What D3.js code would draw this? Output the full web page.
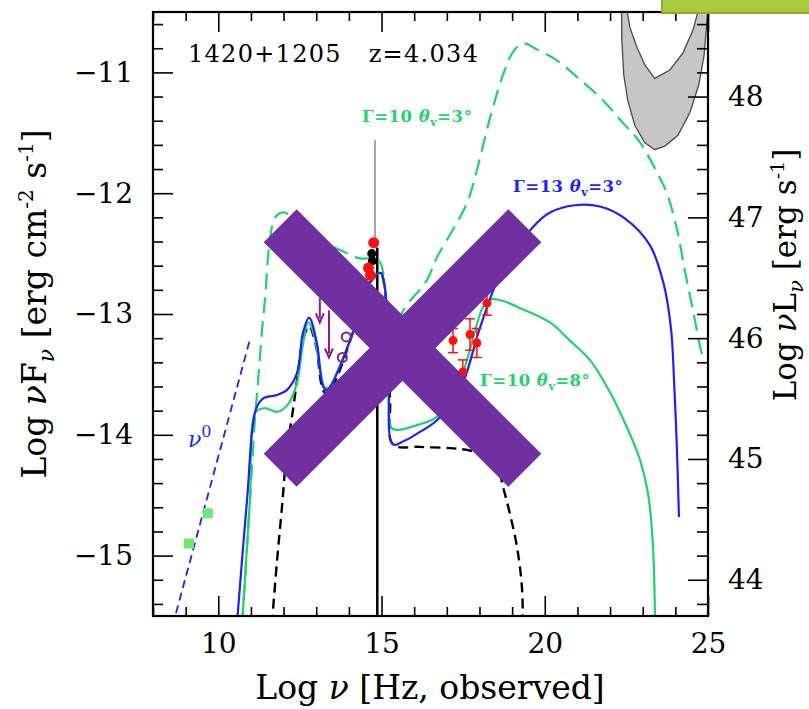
<!DOCTYPE html>
<html>
<head>
<meta charset="utf-8">
<script src="https://cdn.jsdelivr.net/npm/d3@7"></script>
<style>
  body { margin: 0; background: #ffffff; }
  svg { display: block; }
  text { font-family: "DejaVu Serif", serif; }
</style>
</head>
<body>
<svg id="chart" width="809" height="709"></svg>
<script>
// ---- axes -------------------------------------------------------------
const xDomain = [8, 25];              // log nu [Hz]
const yDomain = [-15.5, -10.5];       // log nuF_nu
const lumOffset = 59.2;               // log(4 pi d_L^2) for z = 4.034
const xMajorTicks = [10, 15, 20, 25];
const yMajorTicks = [-15, -14, -13, -12, -11];
const lumMajorTicks = [44, 45, 46, 47, 48];

// ---- jet models (log nu, log nuF_nu) ----------------------------------
// Gamma = 13, theta_v = 3 deg
const blueNu = [10.57, 10.88, 11.15, 11.37, 11.80, 12.10, 12.41, 12.59, 12.78, 13.02, 13.21, 13.33, 13.64, 14.03, 14.34, 14.60, 14.80, 14.98, 15.11, 15.22, 15.35, 15.70, 16.09, 16.70, 17.40, 18.02, 18.63, 19.64, 20.16, 20.92, 21.69, 22.46, 23.22, 23.65, 23.87, 23.96, 24.05, 24.11];
const blueF  = [-15.57, -14.54, -13.79, -13.70, -13.67, -13.63, -13.49, -13.16, -13.03, -13.24, -13.60, -13.63, -13.49, -13.22, -12.97, -12.76, -12.68, -12.66, -12.80, -13.50, -14.08, -14.05, -13.99, -13.88, -13.63, -13.11, -12.68, -12.28, -12.16, -12.10, -12.11, -12.21, -12.43, -12.76, -13.13, -13.55, -14.13, -14.68];

// Gamma = 10, theta_v = 8 deg
const green8Nu = [10.73, 10.97, 11.15, 11.43, 11.80, 12.13, 12.41, 12.59, 12.75, 12.93, 13.11, 13.27, 13.42, 13.73, 14.03, 14.34, 14.60, 14.80, 14.98, 15.11, 15.22, 15.30, 15.47, 16.09, 16.70, 17.40, 18.11, 18.32, 18.70, 19.15, 20.16, 20.77, 21.38, 21.90, 22.52, 22.92, 23.16, 23.31, 23.38];
const green8F  = [-15.57, -14.54, -13.81, -13.78, -13.81, -13.75, -13.57, -13.26, -13.07, -13.17, -13.44, -13.61, -13.60, -13.42, -13.22, -12.97, -12.76, -12.68, -12.66, -12.80, -13.50, -13.94, -13.96, -13.92, -13.85, -13.55, -12.94, -12.88, -12.89, -12.94, -13.07, -13.22, -13.38, -13.60, -13.94, -14.21, -14.48, -14.90, -15.57];

// Gamma = 10, theta_v = 3 deg
const green3Nu = [10.73, 10.97, 11.12, 11.22, 11.34, 11.43, 11.58, 11.74, 11.95, 12.20, 12.50, 13.11, 13.73, 14.34, 14.71, 14.95, 15.11, 15.26, 15.34, 15.63, 16.39, 16.70, 17.19, 17.62, 17.92, 18.32, 18.72, 19.03, 19.33, 19.76, 20.37, 21.08, 21.78, 22.40, 22.92, 23.44, 23.74, 24.05, 24.29, 24.54, 24.75, 24.88];
const green3F  = [-15.57, -14.54, -13.88, -13.55, -13.13, -12.88, -12.39, -12.20, -12.16, -12.18, -12.26, -12.39, -12.47, -12.54, -12.54, -12.57, -12.80, -13.22, -13.30, -12.99, -12.72, -12.53, -12.30, -12.08, -11.81, -11.38, -11.02, -10.83, -10.76, -10.81, -10.90, -11.06, -11.23, -11.42, -11.58, -11.83, -12.00, -12.30, -12.64, -12.97, -13.26, -13.40];

// torus + accretion disk + X-ray corona
const diskNu = [11.64, 11.80, 11.95, 12.10, 12.29, 12.44, 12.59, 12.78, 12.99, 13.21, 13.36, 13.67, 14.03, 14.34, 14.60, 14.80, 14.98, 15.11, 15.26, 15.35, 16.18, 17.10, 17.71, 18.17, 18.54, 18.72, 18.93, 19.15, 19.30, 19.33];
const diskF  = [-15.57, -15.04, -14.60, -14.13, -13.79, -13.49, -13.22, -13.10, -13.26, -13.63, -13.67, -13.50, -13.23, -12.98, -12.77, -12.69, -12.67, -12.82, -13.71, -14.08, -14.10, -14.11, -14.13, -14.16, -14.25, -14.43, -14.65, -14.93, -15.26, -15.57];

// radio spectrum extrapolated as F_nu ~ nu^0
const nu0Nu = [8.60, 10.97];
const nu0F  = [-15.58, -13.21];

// gamma-ray (LAT) sensitivity band: outer edge, then inner edge
const latOuterNu = [22.35, 22.36, 22.42, 22.54, 22.76, 23.06, 23.37, 23.68, 24.08, 24.45, 24.72, 24.88, 24.97, 25.00];
const latOuterF  = [-10.44, -10.73, -11.02, -11.23, -11.44, -11.58, -11.64, -11.61, -11.52, -11.33, -11.10, -10.86, -10.57, -10.44];
const latInnerNu = [24.75, 24.54, 24.23, 23.83, 23.37, 23.07, 22.82, 22.61, 22.49];
const latInnerF  = [-10.44, -10.65, -10.84, -10.98, -11.05, -10.94, -10.79, -10.63, -10.44];

// ---- observations -----------------------------------------------------
const radioNu = [9.10, 9.68];
const radioF  = [-14.90, -14.65];

const ulNu    = [13.11, 13.39];       // IR upper limits
const ulTopF  = [-12.87, -12.97];
const ulTipF  = [-13.07, -13.36];

const irNu = [13.80, 13.92];
const irF  = [-13.36, -13.19];

const optNu = [14.76, 14.60, 14.66];
const optF  = [-12.41, -12.62, -12.68];
const optBlackNu = [14.70, 14.72];
const optBlackF  = [-12.50, -12.56];

const specNu = [14.80, 14.87];        // optical spectrum edge
const specTopF = [-11.56, -12.45];
const specBotF = [-12.45, -15.50];

const xrayNu  = [17.19, 17.49, 17.71, 17.92, 18.23];
const xrayF   = [-13.22, -13.48, -13.17, -13.24, -12.91];
const xrayErr = [0.10, 0.10, 0.13, 0.12, 0.10];

// ---- layout -----------------------------------------------------------
const svg = d3.select("#chart");
const L = 153, R = 708, T = 12, B = 616;
const x = d3.scaleLinear().domain(xDomain).range([L, R]);
const y = d3.scaleLinear().domain(yDomain).range([B, T]);
const yLum = d3.scaleLinear().domain(yDomain.map(v => v + lumOffset)).range([B, T]);

const colBlue = "#1f1fff", colGreen = "#1ed46a", colRed = "#ff1010",
      colPurple = "#8c1a8c";

svg.append("rect").attr("width", 809).attr("height", 709).attr("fill", "#ffffff");

svg.append("defs").append("clipPath").attr("id", "plotClip")
  .append("rect").attr("x", L).attr("y", T).attr("width", R - L).attr("height", B - T);

const plot = svg.append("g").attr("clip-path", "url(#plotClip)");
const zip = (a, b) => a.map((v, i) => [v, b[i]]);
const line = d3.line().x(d => x(d[0])).y(d => y(d[1])).curve(d3.curveCatmullRom.alpha(0.5));
const straight = d3.line().x(d => x(d[0])).y(d => y(d[1]));

// gamma-ray band
plot.append("path")
  .attr("d", straight(zip(latOuterNu, latOuterF).concat(zip(latInnerNu, latInnerF))) + "Z")
  .attr("fill", "#c6c6c6").attr("stroke", "#4a4a4a").attr("stroke-width", 1.3);

// optical spectrum edge
plot.append("line").attr("x1", x(specNu[0])).attr("x2", x(specNu[0]))
  .attr("y1", y(specTopF[0])).attr("y2", y(specTopF[1]))
  .attr("stroke", "#8a8a8a").attr("stroke-width", 1.5);
plot.append("line").attr("x1", x(specNu[1])).attr("x2", x(specNu[1]))
  .attr("y1", y(specBotF[0])).attr("y2", y(specBotF[1]))
  .attr("stroke", "#000").attr("stroke-width", 2.5);

// model curves
plot.append("path").attr("d", straight(zip(nu0Nu, nu0F)))
  .attr("fill", "none").attr("stroke", colBlue).attr("stroke-width", 1.8)
  .attr("stroke-dasharray", "8,5");
plot.append("path").attr("d", line(zip(diskNu, diskF)))
  .attr("fill", "none").attr("stroke", "#000").attr("stroke-width", 2.4)
  .attr("stroke-dasharray", "10,6");
plot.append("path").attr("d", line(zip(green3Nu, green3F)))
  .attr("fill", "none").attr("stroke", colGreen).attr("stroke-width", 2.2)
  .attr("stroke-dasharray", "16,8");
plot.append("path").attr("d", line(zip(green8Nu, green8F)))
  .attr("fill", "none").attr("stroke", colGreen).attr("stroke-width", 2.2);
plot.append("path").attr("d", line(zip(blueNu, blueF)))
  .attr("fill", "none").attr("stroke", colBlue).attr("stroke-width", 2.2);

// radio points
plot.selectAll(".radio").data(zip(radioNu, radioF)).join("rect")
  .attr("x", d => x(d[0]) - 5).attr("y", d => y(d[1]) - 5)
  .attr("width", 10).attr("height", 10).attr("fill", "#6ee86e");

// IR upper limits
const ul = plot.selectAll(".ul").data(ulNu.map((n, i) => ({n, t: ulTopF[i], b: ulTipF[i]}))).join("g");
ul.append("line").attr("x1", d => x(d.n)).attr("x2", d => x(d.n))
  .attr("y1", d => y(d.t)).attr("y2", d => y(d.b) - 4)
  .attr("stroke", colPurple).attr("stroke-width", 2);
ul.append("path")
  .attr("d", d => `M${x(d.n) - 4},${y(d.b) - 9}L${x(d.n)},${y(d.b)}L${x(d.n) + 4},${y(d.b) - 9}`)
  .attr("fill", "none").attr("stroke", colPurple).attr("stroke-width", 2);

plot.selectAll(".ir").data(zip(irNu, irF)).join("circle")
  .attr("cx", d => x(d[0])).attr("cy", d => y(d[1])).attr("r", 4.5)
  .attr("fill", "none").attr("stroke", colPurple).attr("stroke-width", 2);

// optical photometry
plot.selectAll(".optb").data(zip(optBlackNu, optBlackF)).join("circle")
  .attr("cx", d => x(d[0])).attr("cy", d => y(d[1])).attr("r", 4.5).attr("fill", "#000");
plot.selectAll(".opt").data(zip(optNu, optF)).join("circle")
  .attr("cx", d => x(d[0])).attr("cy", d => y(d[1])).attr("r", 5.5).attr("fill", colRed);

// X-ray points with error bars
const xr = plot.selectAll(".xr").data(xrayNu.map((n, i) => ({n, f: xrayF[i], e: xrayErr[i]}))).join("g");
xr.append("line").attr("x1", d => x(d.n)).attr("x2", d => x(d.n))
  .attr("y1", d => y(d.f + d.e)).attr("y2", d => y(d.f - d.e))
  .attr("stroke", colRed).attr("stroke-width", 1.5);
xr.append("line").attr("x1", d => x(d.n - 0.15)).attr("x2", d => x(d.n + 0.15))
  .attr("y1", d => y(d.f - d.e)).attr("y2", d => y(d.f - d.e))
  .attr("stroke", colRed).attr("stroke-width", 1.5);
xr.append("line").attr("x1", d => x(d.n - 0.15)).attr("x2", d => x(d.n + 0.15))
  .attr("y1", d => y(d.f + d.e)).attr("y2", d => y(d.f + d.e))
  .attr("stroke", colRed).attr("stroke-width", 1.5);
xr.append("circle").attr("cx", d => x(d.n)).attr("cy", d => y(d.f)).attr("r", 4.5).attr("fill", colRed);

// ---- axes and frame ---------------------------------------------------
const minorOf = (lo, hi, step, majors) =>
  d3.range(lo, hi + 1e-9, step).map(v => +v.toFixed(2)).filter(v => !majors.includes(v));
const xMinor = minorOf(8, 25, 1, xMajorTicks);
const yMinor = minorOf(-15.4, -10.6, 0.2, yMajorTicks);
const lumMinor = minorOf(43.8, 48.6, 0.2, lumMajorTicks);
const minus = d => (d < 0 ? "\u2212" : "") + Math.abs(d);

function styleAxis(g) {
  g.select(".domain").remove();
  g.selectAll("line").attr("stroke", "#000").attr("stroke-width", 1.6);
  g.selectAll("text").attr("font-size", 28).attr("fill", "#000")
    .attr("font-family", "DejaVu Serif, serif");
}
svg.append("g").attr("transform", `translate(0,${B})`)
  .call(d3.axisBottom(x).tickValues(xMajorTicks).tickSize(-20).tickPadding(17).tickFormat(minus)).call(styleAxis);
svg.append("g").attr("transform", `translate(0,${B})`)
  .call(d3.axisBottom(x).tickValues(xMinor).tickSize(-9).tickFormat("")).call(styleAxis);
svg.append("g").attr("transform", `translate(0,${T})`)
  .call(d3.axisTop(x).tickValues(xMajorTicks).tickSize(-20).tickFormat("")).call(styleAxis);
svg.append("g").attr("transform", `translate(0,${T})`)
  .call(d3.axisTop(x).tickValues(xMinor).tickSize(-9).tickFormat("")).call(styleAxis);
svg.append("g").attr("transform", `translate(${L},0)`)
  .call(d3.axisLeft(y).tickValues(yMajorTicks).tickSize(-20).tickPadding(20).tickFormat(minus)).call(styleAxis);
svg.append("g").attr("transform", `translate(${L},0)`)
  .call(d3.axisLeft(y).tickValues(yMinor).tickSize(-10).tickFormat("")).call(styleAxis);
svg.append("g").attr("transform", `translate(${R},0)`)
  .call(d3.axisRight(yLum).tickValues(lumMajorTicks).tickSize(-20).tickPadding(20).tickFormat(minus)).call(styleAxis);
svg.append("g").attr("transform", `translate(${R},0)`)
  .call(d3.axisRight(yLum).tickValues(lumMinor).tickSize(-11).tickFormat("")).call(styleAxis);

svg.append("rect").attr("x", L).attr("y", T).attr("width", R - L).attr("height", B - T)
  .attr("fill", "none").attr("stroke", "#000").attr("stroke-width", 2.2);

// axis titles
svg.append("text").attr("x", 430).attr("y", 699).attr("text-anchor", "middle")
  .attr("font-size", 33).html("Log <tspan font-style='italic'>ν</tspan> [Hz, observed]");

svg.append("text").attr("transform", `translate(46,${304}) rotate(-90)`).attr("text-anchor", "middle")
  .attr("font-size", 33)
  .html("Log <tspan font-style='italic'>ν</tspan>F<tspan font-style='italic' font-size='22' dy='8'>ν</tspan><tspan dy='-8'> [erg cm</tspan><tspan font-size='20' dy='-13'>-2</tspan><tspan dy='13'> s</tspan><tspan font-size='20' dy='-13'>-1</tspan><tspan dy='13'>]</tspan>");

svg.append("text").attr("transform", `translate(796,${275}) rotate(-90)`).attr("text-anchor", "middle")
  .attr("font-size", 31)
  .html("Log <tspan font-style='italic'>ν</tspan>L<tspan font-style='italic' font-size='21' dy='7'>ν</tspan><tspan dy='-7'> [erg s</tspan><tspan font-size='19' dy='-12'>-1</tspan><tspan dy='12'>]</tspan>");

// annotations
svg.append("text").attr("x", x(9.07)).attr("y", y(-10.91)).attr("font-size", 24)
  .attr("letter-spacing", 1.3)
  .attr("xml:space", "preserve").text("1420+1205   z=4.034");

function modelLabel(nu, f, color, g, th) {
  svg.append("text").attr("x", x(nu)).attr("y", y(f)).attr("font-size", 16.5)
    .attr("font-weight", "bold").attr("fill", color).attr("letter-spacing", 0.5)
    .html(`Γ=${g} <tspan font-style='italic'>θ</tspan><tspan font-size='11' dy='4'>v</tspan><tspan dy='-4'>=${th}°</tspan>`);
}
modelLabel(14.40, -11.41, colGreen, 10, 3);
modelLabel(19.03, -11.99, colBlue, 13, 3);
modelLabel(18.02, -13.60, colGreen, 10, 8);

svg.append("text").attr("x", x(9.07)).attr("y", y(-14.10)).attr("fill", colBlue)
  .attr("font-size", 22).attr("font-style", "italic")
  .html("ν<tspan font-size='16' dy='-10' font-style='normal'>0</tspan>");

// ---- overlays ---------------------------------------------------------
svg.append("rect").attr("x", 662).attr("y", -3).attr("width", 150).attr("height", 16)
  .attr("fill", "#a9c93e").attr("stroke", "#8aab2c").attr("stroke-width", 2);

const cross = svg.append("g").attr("transform", "translate(402.5,348)");
[45, -45].forEach(a => {
  cross.append("rect").attr("x", -173).attr("y", -23.3).attr("width", 346).attr("height", 46.6)
    .attr("transform", `rotate(${a})`).attr("fill", "#7030a0");
});
</script>
</body>
</html>
